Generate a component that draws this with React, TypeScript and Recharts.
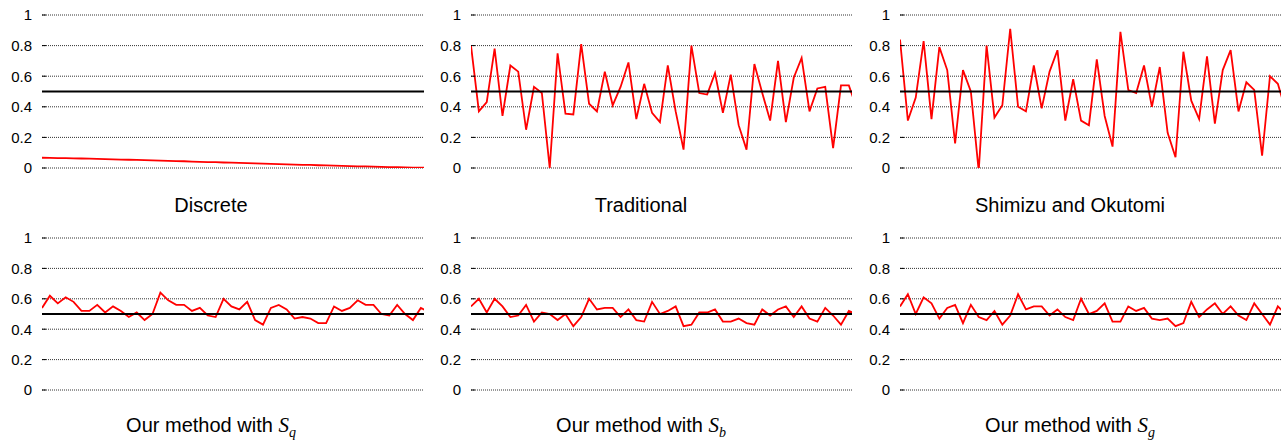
import { LineChart, Line, XAxis, YAxis, CartesianGrid, ReferenceLine } from "recharts";

const yTicks = [0, 0.2, 0.4, 0.6, 0.8, 1];
const xMax = 48.4;

const discrete = [
  0.067, 0.066, 0.065, 0.064, 0.063, 0.062, 0.061, 0.059, 0.058, 0.057,
  0.055, 0.054, 0.053, 0.051, 0.05, 0.048, 0.047, 0.045, 0.044, 0.042,
  0.04, 0.039, 0.038, 0.036, 0.035, 0.033, 0.032, 0.03, 0.028, 0.027,
  0.025, 0.024, 0.022, 0.021, 0.02, 0.018, 0.017, 0.015, 0.014, 0.012,
  0.011, 0.01, 0.009, 0.007, 0.006, 0.005, 0.004, 0.003, 0.002, 0.001,
];

const traditional = [
  0.8, 0.37, 0.43, 0.78, 0.34, 0.67, 0.63, 0.25, 0.53, 0.49,
  0.0, 0.75, 0.355, 0.35, 0.81, 0.42, 0.37, 0.63, 0.41, 0.53,
  0.69, 0.32, 0.55, 0.36, 0.3, 0.67, 0.37, 0.12, 0.8, 0.49,
  0.48, 0.62, 0.36, 0.61, 0.28, 0.12, 0.68, 0.49, 0.31, 0.7,
  0.3, 0.59, 0.72, 0.37, 0.52, 0.53, 0.13, 0.54, 0.54, 0.39,
];

const shimizu = [
  0.84, 0.31, 0.46, 0.83, 0.32, 0.79, 0.64, 0.16, 0.64, 0.5,
  -0.02, 0.8, 0.33, 0.41, 0.91, 0.4, 0.37, 0.67, 0.39, 0.63,
  0.77, 0.31, 0.58, 0.31, 0.28, 0.71, 0.34, 0.14, 0.89, 0.51,
  0.49, 0.67, 0.4, 0.66, 0.23, 0.07, 0.76, 0.44, 0.32, 0.73,
  0.29, 0.64, 0.77, 0.37, 0.56, 0.51, 0.08, 0.6, 0.55, 0.375,
];

const ourSq = [
  0.54, 0.62, 0.57, 0.61, 0.58, 0.52, 0.52, 0.56, 0.51, 0.55,
  0.52, 0.48, 0.51, 0.46, 0.5, 0.64, 0.59, 0.56, 0.56, 0.52,
  0.54, 0.49, 0.48, 0.6, 0.55, 0.53, 0.58, 0.46, 0.43, 0.54,
  0.56, 0.53, 0.47, 0.48, 0.47, 0.44, 0.44, 0.55, 0.52, 0.54,
  0.59, 0.56, 0.56, 0.5, 0.49, 0.56, 0.5, 0.46, 0.54, 0.515,
];

const ourSb = [
  0.55, 0.6, 0.51, 0.6, 0.55, 0.48, 0.49, 0.56, 0.45, 0.51,
  0.5, 0.46, 0.5, 0.42, 0.48, 0.6, 0.53, 0.54, 0.54, 0.48,
  0.53, 0.46, 0.45, 0.58, 0.5, 0.52, 0.55, 0.42, 0.43, 0.51,
  0.51, 0.53, 0.45, 0.45, 0.47, 0.44, 0.43, 0.53, 0.49, 0.53,
  0.55, 0.48, 0.55, 0.47, 0.45, 0.54, 0.49, 0.43, 0.52, 0.5,
];

const ourSg = [
  0.55, 0.63, 0.5, 0.61, 0.57, 0.47, 0.54, 0.56, 0.44, 0.56,
  0.48, 0.46, 0.52, 0.43, 0.49, 0.63, 0.53, 0.55, 0.55, 0.49,
  0.53, 0.48, 0.46, 0.6, 0.5, 0.52, 0.57, 0.45, 0.45, 0.55,
  0.52, 0.54, 0.47, 0.46, 0.47, 0.42, 0.44, 0.58, 0.48, 0.53,
  0.57, 0.5, 0.55, 0.49, 0.46, 0.57, 0.5, 0.43, 0.55, 0.5,
];

const cols = [
  { plotLeft: 42, plotWidth: 382, titleCenter: 211 },
  { plotLeft: 471, plotWidth: 381, titleCenter: 641 },
  { plotLeft: 900, plotWidth: 381, titleCenter: 1070 },
];
const rows = [
  { top: 0, plotHeight: 153, titleTop: 195 },
  { top: 223, plotHeight: 152, titleTop: 415 },
];

const panels = [
  { values: discrete, row: 0, col: 0, title: "Discrete", sub: "" },
  { values: traditional, row: 0, col: 1, title: "Traditional", sub: "" },
  { values: shimizu, row: 0, col: 2, title: "Shimizu and Okutomi", sub: "" },
  { values: ourSq, row: 1, col: 0, title: "Our method with ", sub: "q" },
  { values: ourSb, row: 1, col: 1, title: "Our method with ", sub: "b" },
  { values: ourSg, row: 1, col: 2, title: "Our method with ", sub: "g" },
];

const sans = "'Liberation Sans', Arial, Helvetica, sans-serif";

function Panel({ values, row, col, title, sub }: any) {
  const c = cols[col];
  const r = rows[row];
  const data = values.map((v: number, i: number) => ({ i, v }));
  return (
    <>
      <div style={{ position: "absolute", left: c.plotLeft - 42, top: r.top }}>
        <LineChart
          width={c.plotWidth + 48}
          height={r.plotHeight + 22}
          data={data}
          margin={{ top: 15, right: 0, bottom: 7, left: 0 }}
        >
          <CartesianGrid vertical={false} stroke="#333" strokeDasharray="1 1" />
          <XAxis type="number" dataKey="i" domain={[0, xMax]} allowDataOverflow hide />
          <YAxis
            domain={[0, 1]}
            ticks={yTicks}
            interval={0}
            allowDataOverflow
            width={42}
            axisLine={false}
            tickSize={-4}
            tickMargin={14}
            tickLine={{ stroke: "#000" }}
            tick={{ fill: "#000", fontSize: 15, fontFamily: sans }}
            tickFormatter={(v: number) => String(v)}
          />
          <YAxis
            yAxisId="r"
            orientation="right"
            domain={[0, 1]}
            ticks={yTicks}
            interval={0}
            width={6}
            axisLine={false}
            tickSize={-4}
            tickMargin={0}
            tickLine={{ stroke: "#000" }}
            tickFormatter={() => ""}
          />
          <Line
            type="linear"
            dataKey="v"
            stroke="#ff0000"
            strokeWidth={1.8}
            dot={false}
            isAnimationActive={false}
          />
          <ReferenceLine y={0.5} stroke="#000" strokeWidth={1.8} />
        </LineChart>
      </div>
      <div
        style={{
          position: "absolute",
          left: c.titleCenter - 200,
          width: 400,
          top: r.titleTop,
          textAlign: "center",
          fontFamily: sans,
          fontSize: 20,
          lineHeight: "20px",
          color: "#000",
          whiteSpace: "pre",
        }}
      >
        {title}
        {sub && (
          <span style={{ fontFamily: "'Liberation Serif', 'DejaVu Serif', serif", fontStyle: "italic", fontSize: 21 }}>
            S
            <span style={{ fontSize: 14, position: "relative", top: 5 }}>{sub}</span>
          </span>
        )}
      </div>
    </>
  );
}

export default function App() {
  return (
    <div
      style={{
        position: "absolute",
        left: 0,
        top: 0,
        width: 1288,
        height: 441,
        background: "#fff",
        overflow: "hidden",
      }}
    >
      {panels.map((p, k) => (
        <Panel key={k} {...p} />
      ))}
    </div>
  );
}
